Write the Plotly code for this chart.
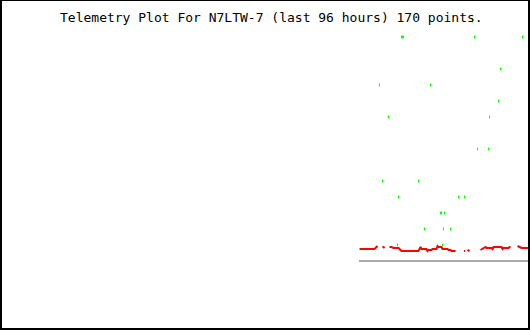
import plotly.graph_objects as go

# Telemetry (hours relative to now, value)
red_hours = [
    -30.88, -28.17, -27.80, -27.62, None,
    -26.72, -26.54, -26.35, None,
    -25.45, -25.09, -24.72, -23.82, -23.46, -23.28, -20.20, -19.83, -19.65, -18.75,
    -18.57, -18.38, -17.84, -17.66, -16.94, -16.75, -16.57, -16.03, -15.85, -14.94,
    -14.76, -14.40, -14.22, -13.49, None,
    -11.95, -11.77, None,
    -11.32, -10.96, None,
    -8.97, -8.42, -8.06, -7.88, -6.97, -6.79, -6.61, -5.16, -4.98, -4.80, -3.89,
    -3.71, -3.53, None,
    -2.26, -1.90, -1.54, -0.09,
]
red_values = [
    0.75, 0.75, 0.875, 0.9375, None,
    0.875, 0.875, 0.8125, None,
    0.875, 0.875, 0.8125, 0.8125, 0.6875, 0.625, 0.625, 0.875, 0.75, 0.75,
    0.625, 0.6875, 0.6875, 0.75, 0.75, 0.9375, 0.875, 0.875, 0.75, 0.75,
    0.6875, 0.6875, 0.625, 0.625, None,
    0.625, 0.625, None,
    0.6875, 0.625, None,
    0.6875, 0.8125, 0.875, 0.8125, 0.8125, 0.75, 0.875, 0.875, 0.75, 0.8125, 0.8125,
    0.875, 0.875, None,
    0.9375, 0.875, 0.8125, 0.8125,
]

green_hours = [
    -23.28, -23.10, -22.91, -10.05, -1.36, -10.42, -5.34, -27.26, -18.02, -5.71,
    -25.63, -7.34, -9.51, -7.52, -26.72, -20.20, -23.82, -12.95, -11.86,
    -16.21, -16.03, -15.49, -19.11, -15.67, -14.40, -24.00, -15.85,
]
green_values = [
    14, 14, 14, 14, 14, 15, 12, 11, 11, 10,
    9, 9, 7, 7, 5, 5, 4, 4, 4,
    3, 3, 3, 2, 2, 2, 1, 1,
]

base_hours = [-30.97, 0.0]
base_values = [0, 0]

title_text = "Telemetry Plot For N7LTW-7 (last 96 hours) 170 points."

fig = go.Figure()
fig.add_trace(go.Scatter(x=base_hours, y=base_values, mode="lines",
                         line=dict(color="#aaaaaa", width=2), hoverinfo="skip"))
fig.add_trace(go.Scatter(x=red_hours, y=red_values, mode="lines", connectgaps=False,
                         line=dict(color="#ff0000", width=2), hoverinfo="skip"))
fig.add_trace(go.Scatter(x=green_hours, y=green_values, mode="markers",
                         marker=dict(symbol="line-ns", size=2,
                                     line=dict(width=1, color="#00ff00")),
                         hoverinfo="skip"))

fig.update_layout(
    width=530, height=330, autosize=False,
    margin=dict(l=0, r=0, t=0, b=0),
    paper_bgcolor="white", plot_bgcolor="white",
    showlegend=False,
    xaxis=dict(visible=False, range=[-96, 0], fixedrange=True),
    yaxis=dict(visible=False, range=[-4.3125, 16.3125], fixedrange=True),
    shapes=[dict(type="rect", xref="paper", yref="paper",
                 x0=1/530, x1=529/530, y0=1/330, y1=1.0,
                 line=dict(color="black", width=2), fillcolor="rgba(0,0,0,0)")],
    annotations=[dict(text=title_text, xref="paper", yref="paper",
                      x=271/530, y=1 - 17.5/330, xanchor="center", yanchor="middle",
                      showarrow=False,
                      font=dict(family="DejaVu Sans Mono", size=13, color="black"))],
)

fig.write_html("out.html", config={"displayModeBar": False})
